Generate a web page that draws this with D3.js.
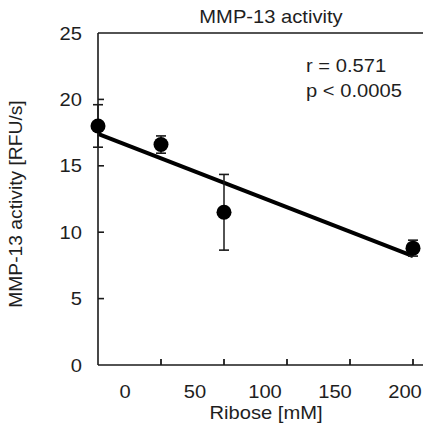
<!DOCTYPE html>
<html><head><meta charset="utf-8">
<script src="https://cdn.jsdelivr.net/npm/d3@7"></script>
<style>
html,body{margin:0;padding:0;background:#fff;}
svg{display:block;}
text{font-family:"Liberation Sans",Arial,sans-serif;fill:#1e1e1e;}
</style></head>
<body>
<script>
// Data
const ribose = [0, 40, 80, 200];
const activity = [18.0, 16.6, 11.5, 8.8];
const errors = [1.6, 0.65, 2.85, 0.6];
const fitX = [0, 200];
const fitY = [17.4, 8.2];
const xTickValues = [40, 80, 120, 160, 200];
const xTickLabels = ["0", "50", "100", "150", "200"];
const xLabelValues = [0, 50, 100, 150, 200];
const yTickValues = [0, 5, 10, 15, 20, 25];
const annotation = ["r = 0.571", "p < 0.0005"];

const W = 423, H = 426;
const SX = 1.12; // horizontal stretch of the original lettering
const svg = d3.select("body").append("svg").attr("width", W).attr("height", H);

const x = d3.scaleLinear().domain([0, 200]).range([98, 413]);
const xLab = d3.scaleLinear().domain([0, 200]).range([125, 405]);
const y = d3.scaleLinear().domain([0, 25]).range([365, 33]);

const ink = "#1a1a1a";

function txt(sel, px, py, anchor) {
  return sel.attr("transform", (d, i) => `translate(${px(d, i)},${py(d, i)}) scale(${SX},1)`)
    .attr("text-anchor", anchor).attr("font-size", 18);
}

// frame
svg.append("line").attr("x1", x(0)).attr("x2", x(0)).attr("y1", y(25)).attr("y2", y(0))
  .attr("stroke", ink).attr("stroke-width", 1.6);
svg.append("line").attr("x1", x(0)).attr("x2", W + 5).attr("y1", y(0)).attr("y2", y(0))
  .attr("stroke", ink).attr("stroke-width", 1.6);
svg.append("line").attr("x1", x(0)).attr("x2", W + 5).attr("y1", y(25)).attr("y2", y(25))
  .attr("stroke", ink).attr("stroke-width", 1.6);

// x ticks (inward)
svg.selectAll(".xt").data(xTickValues).enter().append("line")
  .attr("x1", d => x(d)).attr("x2", d => x(d))
  .attr("y1", y(0)).attr("y2", y(0) - 6)
  .attr("stroke", ink).attr("stroke-width", 1.8);
txt(svg.selectAll(".xl").data(xTickLabels).enter().append("text"),
  (d, i) => xLab(xLabelValues[i]), () => 398, "middle").text(d => d);

// y ticks (inward)
svg.selectAll(".yt").data(yTickValues.filter(v => v > 0 && v < 25)).enter().append("line")
  .attr("x1", x(0)).attr("x2", x(0) + 6)
  .attr("y1", d => y(d)).attr("y2", d => y(d))
  .attr("stroke", ink).attr("stroke-width", 1.6);
txt(svg.selectAll(".yl").data(yTickValues).enter().append("text"),
  () => 82, d => y(d) + 6.5, "end").text(d => d);

// regression line
const line = d3.line().x(d => x(d[0])).y(d => y(d[1]));
svg.append("path").datum(fitX.map((v, i) => [v, fitY[i]]))
  .attr("d", line).attr("fill", "none").attr("stroke", "#000").attr("stroke-width", 4);

// error bars
const pts = ribose.map((v, i) => ({x: v, y: activity[i], e: errors[i]}));
const eb = svg.selectAll(".eb").data(pts).enter().append("g");
eb.append("line").attr("x1", d => x(d.x)).attr("x2", d => x(d.x))
  .attr("y1", d => y(d.y + d.e)).attr("y2", d => y(d.y - d.e))
  .attr("stroke", ink).attr("stroke-width", 1.5);
eb.append("line").attr("x1", d => x(d.x) - 5).attr("x2", d => x(d.x) + 5)
  .attr("y1", d => y(d.y + d.e)).attr("y2", d => y(d.y + d.e))
  .attr("stroke", ink).attr("stroke-width", 1.6);
eb.append("line").attr("x1", d => x(d.x) - 5).attr("x2", d => x(d.x) + 5)
  .attr("y1", d => y(d.y - d.e)).attr("y2", d => y(d.y - d.e))
  .attr("stroke", ink).attr("stroke-width", 1.6);

// points
svg.selectAll(".pt").data(pts).enter().append("circle")
  .attr("cx", d => x(d.x)).attr("cy", d => y(d.y)).attr("r", 7.5)
  .attr("fill", "#000");

// title
txt(svg.append("text"), () => 271, () => 23, "middle").text("MMP-13 activity");

// annotation
txt(svg.selectAll(".ann").data(annotation).enter().append("text"),
  () => 306, (d, i) => 72 + i * 25, "start").text(d => d);

// axis titles
txt(svg.append("text"), () => 266, () => 419, "middle").text("Ribose [mM]");
svg.append("text").attr("transform", "translate(22,204) rotate(-90) scale(1.07,1)")
  .attr("text-anchor", "middle").attr("font-size", 18).text("MMP-13 activity [RFU/s]");
</script>
</body></html>
